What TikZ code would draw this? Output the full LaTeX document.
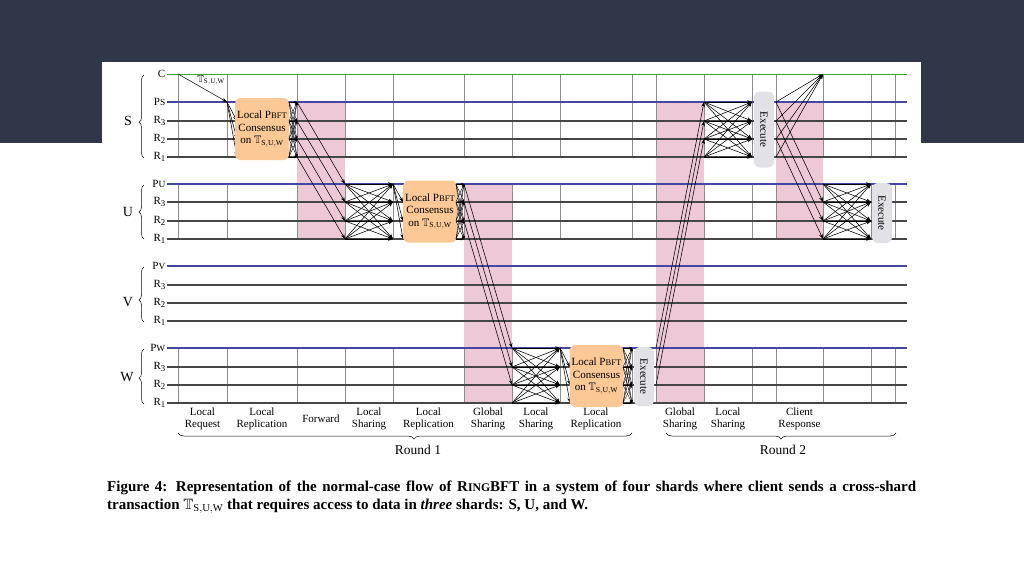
\documentclass[tikz,border=0pt]{standalone}
\usepackage{amsmath}
\usepackage{amssymb}
\usepackage{fontspec}
\setmainfont{Liberation Serif}
\usetikzlibrary{arrows.meta,positioning,calc,decorations.pathreplacing}
\definecolor{slidebg}{RGB}{47,55,72}
\definecolor{clientgreen}{RGB}{60,165,50}
\definecolor{primblue}{RGB}{70,70,165}
\definecolor{repgray}{RGB}{70,70,70}
\definecolor{gridgray}{RGB}{140,140,140}
\definecolor{sharepink}{RGB}{237,200,214}
\definecolor{pbftorange}{RGB}{251,200,150}
\definecolor{execgray}{RGB}{226,226,230}
\newcommand{\smcap}[1]{\scalebox{0.78}{#1}}
\newcommand{\rsub}[1]{\raisebox{-0.3ex}{\scalebox{0.8}{#1}}}
\newcommand{\tsuw}{$\mathbb{T}_{\mathrm{S,U,W}}$}
\tikzset{
  msg/.style={-{Stealth[length=5pt,width=3.6pt]}, line width=0.55pt, black},
  tinymsg/.style={-{Stealth[length=3pt,width=2.6pt]}, line width=0.4pt, black},
  clientline/.style={clientgreen, line width=0.9pt},
  primline/.style={primblue, line width=1.1pt},
  repline/.style={repgray, line width=1.1pt},
  colsep/.style={gridgray, line width=0.8pt},
  pbftbox/.style={fill=pbftorange, rounded corners=6pt, align=center, inner sep=0pt,
    minimum width=54pt, minimum height=62pt, font=\fontsize{11}{12.5}\selectfont},
  execbox/.style={fill=execgray, rounded corners=6pt, rotate=-90, inner sep=0pt,
    minimum height=20pt, font=\fontsize{11}{12}\selectfont},
  replabel/.style={anchor=east, inner sep=1.5pt, font=\fontsize{11}{12}\selectfont},
  shardlabel/.style={font=\fontsize{14}{14}\selectfont},
  phaselabel/.style={align=center, font=\fontsize{11}{12}\selectfont},
  shardbrace/.style={decorate, decoration={brace, amplitude=5pt}, line width=0.5pt},
  roundbrace/.style={decorate, decoration={brace, amplitude=6pt, mirror}, line width=0.5pt},
}
\begin{document}
\begin{tikzpicture}[x=1pt,y=-1pt]
\useasboundingbox (0,0) rectangle (1024,576);
% slide background
\fill[white] (0,0) rectangle (1024,576);
\fill[slidebg] (0,0) rectangle (1024,143);
\fill[white] (102,62) rectangle (921,143);
% grid points: one row per replica, one column per time step
\foreach \lname/\ly in {C/74,PS/102,S3/121,S2/139,S1/157,PU/184,U3/202,U2/221,U1/239,
    PV/266,V3/285,V2/303,V1/321,PW/348,W3/367,W2/385,W1/403}{
  \foreach \cn/\cx in {L/167,1/178,2/227,sa/237,sb/289,3/297,4/345,5/393,ua/403,ub/456,
      6/464,7/512,8/560,wa/570,wb/623,9/632,10/656,11/704,12/752,13/776,14/823,15/871,16/895,R/907}{
    \coordinate (\lname-\cn) at (\cx,\ly);
  }
}
% sharing bands
\fill[sharepink] (PS-3) rectangle (U1-4);
\fill[sharepink] (PU-6) rectangle (W1-7);
\fill[sharepink] (PS-10) rectangle (W1-11);
\fill[sharepink] (PS-13) rectangle (U1-14);
% column separators
\foreach \cn in {1,...,16}{
  \draw[colsep] (C-\cn) -- (S1-\cn);
  \draw[colsep] (PU-\cn) -- (U1-\cn);
  \draw[colsep] (PW-\cn) -- (W1-\cn);
}
% time lines
\draw[clientline] (C-L) -- (C-R);
\foreach \p in {PS,PU,PV,PW} \draw[primline] (\p-L) -- (\p-R);
\foreach \r in {S3,S2,S1,U3,U2,U1,V3,V2,V1,W3,W2,W1} \draw[repline] (\r-L) -- (\r-R);
% row labels
\node[replabel] (lab-C) at (C-L) {C};
\foreach \sh in {S,U,V,W}{
  \node[replabel] (lab-P\sh) at (P\sh-L) {P\scalebox{0.85}{\sh}};
  \node[replabel] (lab-\sh3) at (\sh3-L) {R\rsub{3}};
  \node[replabel] (lab-\sh2) at (\sh2-L) {R\rsub{2}};
  \node[replabel] (lab-\sh1) at (\sh1-L) {R\rsub{1}};
}
% shard braces
\draw[shardbrace, decoration={aspect=0.43}] (144,158) -- (144,75);
\draw[shardbrace] (144,239) -- (144,185);
\draw[shardbrace, decoration={aspect=0.4}] (144,322) -- (144,267);
\draw[shardbrace, decoration={aspect=0.47}] (144,404) -- (144,349);
\node[shardlabel] (shard-S) at (128,121) {S};
\node[shardlabel] (shard-U) at (128,212) {U};
\node[shardlabel] (shard-V) at (128,302) {V};
\node[shardlabel] (shard-W) at (127,377) {W};
% phase labels
\foreach \a/\b/\txt [count=\i] in {1/2/Local\\Request, 2/3/Local\\Replication, 3/4/Forward,
    4/5/Local\\Sharing, 5/6/Local\\Replication, 6/7/Global\\Sharing, 7/8/Local\\Sharing,
    8/9/Local\\Replication, 10/11/Global\\Sharing, 11/12/Local\\Sharing, 13/14/Client\\Response}{
  \node[phaselabel] (phase-\i) at ($(W1-\a)!0.5!(W1-\b)+(0,16)$) {\txt};
}
% rounds
\draw[roundbrace, decoration={aspect=0.52}] (178,433) -- (632,433);
\draw[roundbrace] (666,433) -- (896,433);
\node[font=\fontsize{13.5}{14}\selectfont] (round-1) at (418,450) {Round 1};
\node[font=\fontsize{13.5}{14}\selectfont] (round-2) at (783,450) {Round 2};

% client request and local replication in S
\draw[msg] (C-1) -- node[pos=0.45, anchor=south west, inner sep=1pt, xshift=-4pt,
  font=\fontsize{10}{12}\selectfont] (tx-label) {\tsuw} (PS-2);
\foreach \r in {S3,S2,S1} \draw[msg] (PS-2) -- (\r-sa);
\node[pbftbox] (pbft-S) at (262,129) {Local P\smcap{BFT}\\Consensus\\on \tsuw};
\foreach \a in {PS,S3,S2,S1}{\foreach \b in {PS,S3,S2,S1}{\draw[tinymsg] (\a-sb) -- (\b-3);}}
% forward S to U
\foreach \a/\b in {PS/PU,S3/U3,S2/U2,S1/U1} \draw[msg] (\a-3) -- (\b-4);
% local sharing and replication in U
\foreach \a in {PU,U3,U2,U1}{\foreach \b in {PU,U3,U2,U1}{\draw[msg] (\a-4) -- (\b-5);}}
\foreach \r in {U3,U2,U1} \draw[msg] (PU-5) -- (\r-ua);
\node[pbftbox] (pbft-U) at (430,211.5) {Local P\smcap{BFT}\\Consensus\\on \tsuw};
\foreach \a in {PU,U3,U2,U1}{\foreach \b in {PU,U3,U2,U1}{\draw[tinymsg] (\a-ub) -- (\b-6);}}
% global sharing U to W
\foreach \a/\b in {PU/PW,U3/W3,U2/W2} \draw[msg] (\a-6) -- (\b-7);
% local sharing and replication in W
\foreach \a in {PW,W3,W2,W1}{\foreach \b in {PW,W3,W2,W1}{\draw[msg] (\a-7) -- (\b-8);}}
\foreach \r in {W3,W2,W1} \draw[msg] (PW-8) -- (\r-wa);
\node[pbftbox] (pbft-W) at (596.5,376) {Local P\smcap{BFT}\\Consensus\\on \tsuw};
\foreach \a in {PW,W3,W2,W1}{\foreach \b in {PW,W3,W2,W1}{\draw[tinymsg] (\a-wb) -- (\b-9);}}
\node[execbox, minimum width=59pt] (exec-W) at (644,376.5) {Execute};
% global sharing W to S
\foreach \a/\b in {PW/PS,W3/S3,W2/S2} \draw[msg] (\a-10) -- (\b-11);
\foreach \a in {PS,S3,S2,S1}{\foreach \b in {PS,S3,S2,S1}{\draw[msg] (\a-11) -- (\b-12);}}
\node[execbox, minimum width=76pt] (exec-S) at (764,129.5) {Execute};
% client response and forward to U
\foreach \a in {PS,S3,S2,S1} \draw[msg] (\a-13) -- (C-14);
\foreach \a/\b in {PS/U3,S3/U2,S2/U1} \draw[msg] (\a-13) -- (\b-14);
\foreach \a in {PU,U3,U2,U1}{\foreach \b in {PU,U3,U2,U1}{\draw[msg] (\a-14) -- (\b-15);}}
\node[execbox, minimum width=60pt] (exec-U) at (882,213) {Execute};

% caption
\node[anchor=base west, inner sep=0pt, font=\bfseries\fontsize{15}{18}\selectfont] (cap-1) at (107,491)
  {\makebox[809pt][s]{Figure 4: Representation of the normal-case flow of R\smcap{ING}BFT in a system of four shards where client sends a cross-shard}};
\node[anchor=base west, inner sep=0pt, font=\bfseries\fontsize{15}{18}\selectfont] (cap-2) at (107,509)
  {transaction \tsuw{} that requires access to data in \textit{three} shards: S, U, and W.};
\end{tikzpicture}
\end{document}
